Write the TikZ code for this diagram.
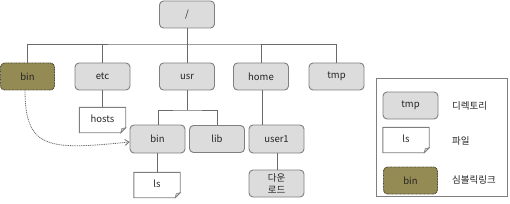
\documentclass[tikz,border=0pt]{standalone}
\usepackage{fontspec}
\setmainfont{Noto Sans CJK KR}
\usetikzlibrary{arrows.meta}
\definecolor{boxfill}{HTML}{DCDCDC}
\definecolor{boxline}{HTML}{7F7F7F}
\definecolor{symfill}{HTML}{948A54}
\definecolor{symline}{HTML}{4F4A30}
\definecolor{conn}{HTML}{6A6A6A}
\definecolor{txt}{HTML}{262626}
\begin{document}
\begin{tikzpicture}[x=1pt,y=-1pt,
  font=\fontsize{9.5}{12}\selectfont, text=txt,
  dirbox/.style={draw=boxline, fill=boxfill, line width=0.9pt, rounded corners=4pt,
    minimum width=55pt, minimum height=27pt, inner sep=0pt},
  symbox/.style={draw=symline, fill=symfill, line width=0.9pt, dash pattern=on 1pt off 0.6pt,
    rounded corners=4pt, minimum width=54pt, minimum height=27pt, inner sep=0pt},
  filebox/.style={minimum width=46pt, minimum height=25pt, inner sep=0pt},
  conline/.style={draw=conn, line width=0.9pt},
  fileline/.style={draw=boxline, line width=0.9pt, fill=white}]
\useasboundingbox (0,0) rectangle (510,203);

% legend frame
\draw[draw=boxline, line width=0.7pt, fill=white] (376,78) rectangle (507,196);

% directory tree nodes
\node[dirbox] (root) at (187,14.5) {/};
\node[symbox] (bin1) at (27.5,76.5) {bin};
\node[dirbox] (etc) at (102.5,76.5) {etc};
\node[dirbox] (usr) at (187,76.5) {usr};
\node[dirbox] (home) at (261,76.5) {home};
\node[dirbox] (tmp) at (336.5,76.5) {tmp};
\node[filebox] (hosts) at (102.5,120) {};
\node[dirbox, minimum height=28pt] (bin2) at (157.5,139) {bin};
\node[dirbox] (lib) at (217,139) {lib};
\node[dirbox, minimum height=28pt] (user1) at (276.5,139) {user1};
\node[filebox] (ls) at (157,185) {};
\node[dirbox, align=center, font=\fontsize{9.5}{12}\selectfont] (down) at (276.5,183.5) {다운\\로드};

% legend nodes
\node[dirbox] (lgdir) at (410.5,105.5) {tmp};
\node[filebox] (lgfile) at (406,140) {};
\node[symbox] (lgsym) at (410.5,180.5) {bin};
\node[anchor=west, inner sep=0pt] (lgdirt) at (452,106) {디렉토리};
\node[anchor=west, inner sep=0pt] (lgfilet) at (452,141) {파일};
\node[anchor=west, inner sep=0pt] (lgsymt) at (452,180) {심볼릭링크};

% file outlines with folded corner
\foreach \n/\t in {hosts/hosts, ls/ls, lgfile/ls}{
  \draw[fileline] (\n.north west) -- (\n.north east) -- ([yshift=5pt]\n.south east)
    -- ([xshift=-5pt]\n.south east) -- (\n.south west) -- cycle;
  \draw[draw=boxline, fill=boxfill, line width=0.6pt] ([yshift=5pt]\n.south east)
    -- ([xshift=-4pt,yshift=4pt]\n.south east) -- ([xshift=-5pt]\n.south east) -- cycle;
  \node[inner sep=0pt] at ([yshift=1.5pt]\n.center) {\t};
}

% connectors
\coordinate (bus) at (187,44);
\coordinate (ubus) at (187,110);
\draw[conline] (root.south) -- (usr.north);
\draw[conline] (bin1.north) |- (bus) -| (tmp.north);
\draw[conline] (etc.north) -- (etc.north |- bus);
\draw[conline] (home.north) -- (home.north |- bus);
\draw[conline] (etc.south) -- (hosts.north);
\draw[conline] (usr.south) -- (ubus);
\draw[conline] ([xshift=0.5pt]bin2.north) |- (ubus) -| ([xshift=0.5pt]lib.north);
\draw[conline] ([xshift=1pt]home.south) -- ([xshift=1pt]home.south |- user1.north);
\draw[conline] ([xshift=-0.5pt]bin2.south) -- ([xshift=-0.5pt]bin2.south |- ls.north);
\draw[conline] ([xshift=0.5pt]user1.south) -- ([xshift=0.5pt]user1.south |- down.north);

% symbolic link
\draw[draw=conn, line width=0.8pt, dash pattern=on 1pt off 0.8pt, -{Straight Barb[length=4pt,width=6pt]}]
  ([xshift=-2.5pt]bin1.south) .. controls (25,150) and (50,150) .. ([yshift=-3pt]bin2.west);
\end{tikzpicture}
\end{document}
